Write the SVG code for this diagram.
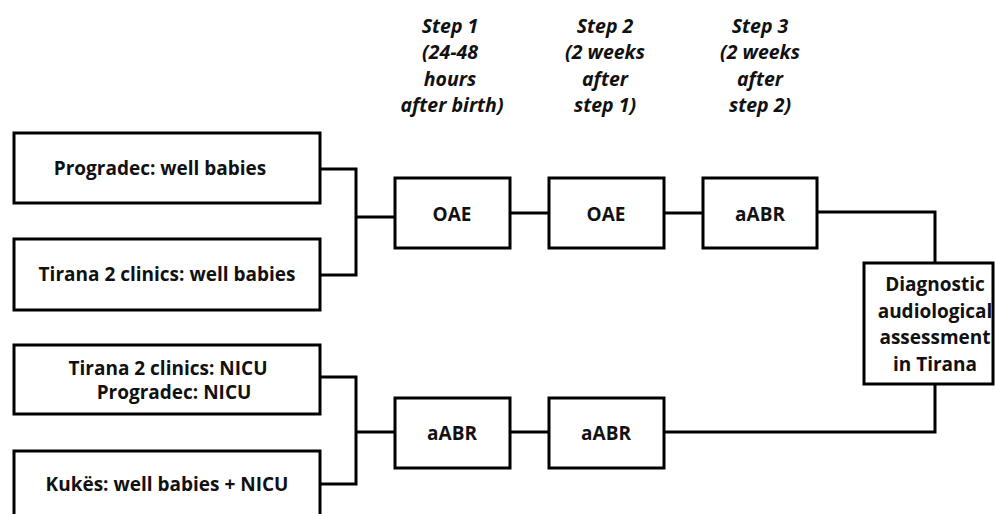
<svg xmlns="http://www.w3.org/2000/svg" width="995" height="514" viewBox="0 0 995 514">
<style>
.box{fill:#fff;stroke:#000;stroke-width:3}
.t{font-family:"Open Sans",sans-serif;font-weight:700;font-size:19px;fill:#111;text-anchor:middle}
.h{font-family:"Open Sans",sans-serif;font-weight:700;font-style:italic;font-size:19.5px;fill:#111;text-anchor:middle}
.c{fill:none;stroke:#000;stroke-width:3}
</style>
<rect width="995" height="514" fill="#fff"/>
<g id="connectors">
<polyline class="c" points="320,169 356,169 356,275 320,275"/>
<line class="c" x1="356" y1="217" x2="395" y2="217"/>
<line class="c" x1="510" y1="213" x2="549" y2="213"/>
<line class="c" x1="664" y1="213" x2="703" y2="213"/>
<polyline class="c" points="817,212 935,212 935,263"/>
<polyline class="c" points="320,377 356,377 356,484 320,484"/>
<line class="c" x1="356" y1="432" x2="395" y2="432"/>
<line class="c" x1="510" y1="432" x2="549" y2="432"/>
<polyline class="c" points="664,432 935,432 935,384"/>
</g>
<g id="headers">
<text class="h" x="450" y="33">Step 1</text>
<text class="h" x="450" y="59">(24-48</text>
<text class="h" x="450" y="86">hours</text>
<text class="h" x="452" y="112">after birth)</text>
<text class="h" x="605" y="33">Step 2</text>
<text class="h" x="605" y="59">(2 weeks</text>
<text class="h" x="605" y="86">after</text>
<text class="h" x="605" y="112">step 1)</text>
<text class="h" x="760" y="33">Step 3</text>
<text class="h" x="760" y="59">(2 weeks</text>
<text class="h" x="760" y="86">after</text>
<text class="h" x="760" y="112">step 2)</text>
</g>
<g id="prog-well"><rect class="box" x="14" y="133" width="306" height="70"/><text class="t" x="160" y="175">Progradec: well babies</text></g>
<g id="tirana-well"><rect class="box" x="14" y="239" width="306" height="71"/><text class="t" x="167" y="281">Tirana 2 clinics: well babies</text></g>
<g id="tirana-nicu"><rect class="box" x="14" y="345" width="306" height="69"/><text class="t" x="168" y="375">Tirana 2 clinics: NICU</text><text class="t" x="174" y="399">Progradec: NICU</text></g>
<g id="kukes"><rect class="box" x="14" y="451" width="306" height="75"/><text class="t" x="167" y="491">Kukës: well babies + NICU</text></g>
<g id="oae1"><rect class="box" x="395" y="178" width="115" height="70"/><text class="t" x="452" y="221">OAE</text></g>
<g id="oae2"><rect class="box" x="549" y="178" width="115" height="70"/><text class="t" x="606" y="221">OAE</text></g>
<g id="aabr3"><rect class="box" x="703" y="178" width="114" height="70"/><text class="t" x="760" y="221">aABR</text></g>
<g id="aabr1"><rect class="box" x="395" y="398" width="115" height="70"/><text class="t" x="452" y="440">aABR</text></g>
<g id="aabr2"><rect class="box" x="549" y="398" width="115" height="70"/><text class="t" x="606" y="440">aABR</text></g>
<g id="diag"><rect class="box" x="864" y="263" width="129" height="121"/>
<text class="t" x="935" y="291">Diagnostic</text>
<text class="t" x="935" y="318">audiological</text>
<text class="t" x="935" y="344">assessment</text>
<text class="t" x="935" y="371">in Tirana</text></g>
</svg>
